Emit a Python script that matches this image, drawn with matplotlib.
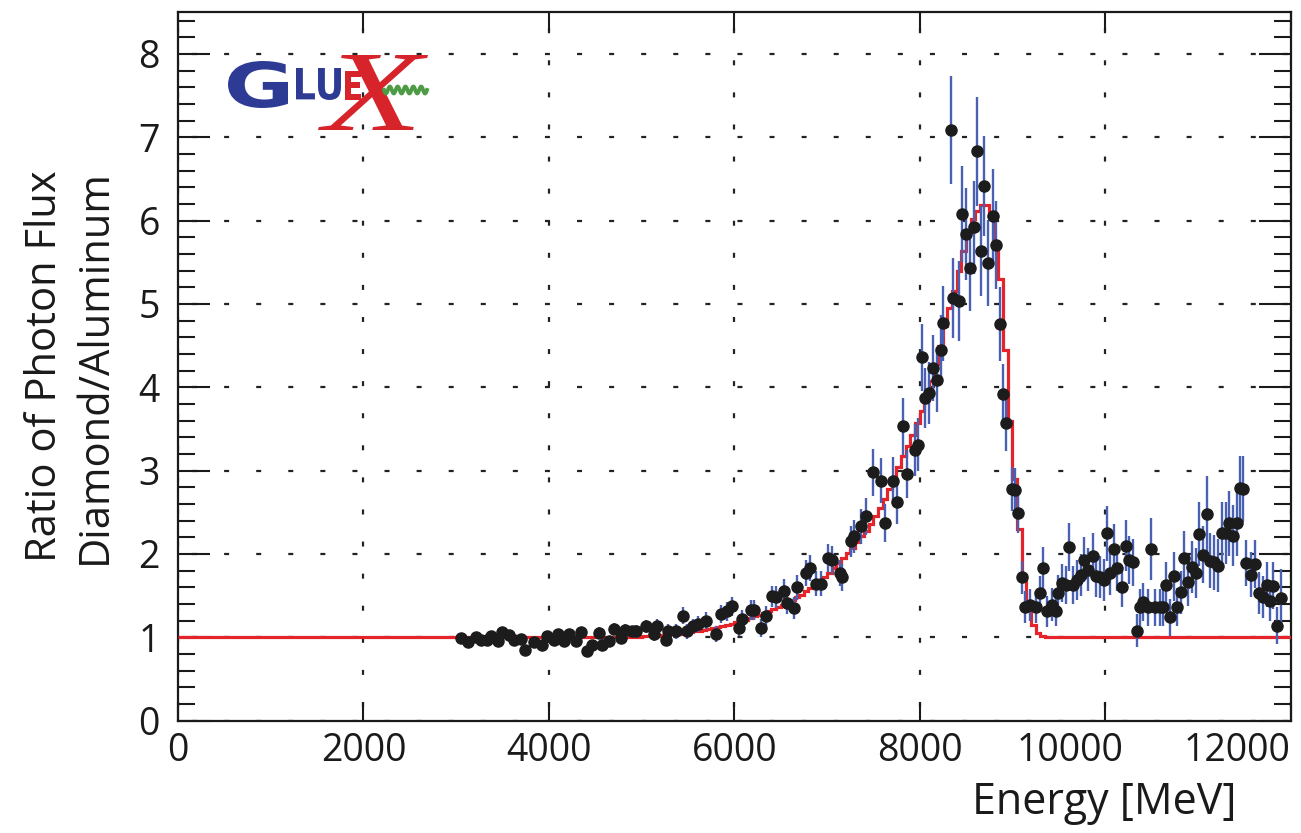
import numpy as np
import matplotlib
matplotlib.use("Agg")
import matplotlib.pyplot as plt
from matplotlib.ticker import MultipleLocator, FixedLocator
from matplotlib.lines import Line2D
from matplotlib.textpath import TextPath
from matplotlib.patches import PathPatch
from matplotlib.font_manager import FontProperties
from matplotlib.transforms import Affine2D

plt.rcParams['font.family'] = ['Open Sans', 'DejaVu Sans']
plt.rcParams['lines.scale_dashes'] = False

#--------------------------------------------------------------------------------#
# tagged photon energy [MeV], flux ratio diamond/aluminum and its error
energy = [3048, 3124, 3211, 3265, 3329, 3373, 3448, 3492, 3567, 3621, 3697, 3740, 3838, 3924,
          3978, 4054, 4097, 4162, 4216, 4292, 4346, 4410, 4465, 4540, 4573, 4648, 4702, 4778,
          4821, 4897, 4940, 5048, 5135, 5167, 5264, 5286, 5373, 5448, 5491, 5556, 5610, 5697,
          5805, 5859, 5924, 5978, 6054, 6086, 6183, 6216, 6291, 6345, 6410, 6454, 6540, 6572,
          6648, 6681, 6778, 6821, 6886, 6940, 7016, 7059, 7145, 7167, 7254, 7297, 7372, 7426,
          7502, 7578, 7621, 7707, 7751, 7816, 7859, 7945, 7978, 8021, 8053, 8097, 8140, 8183,
          8226, 8248, 8335, 8356, 8421, 8453, 8497, 8540, 8583, 8616, 8659, 8691, 8734, 8789,
          8821, 8864, 8897, 8929, 8994, 9026, 9059, 9102, 9134, 9189, 9253, 9297, 9329, 9372,
          9426, 9470, 9491, 9534, 9577, 9610, 9653, 9697, 9740, 9772, 9815, 9870, 9902, 9945,
          9988, 10021, 10053, 10097, 10129, 10183, 10226, 10259, 10302, 10345, 10378, 10410,
          10464, 10497, 10540, 10594, 10626, 10659, 10702, 10745, 10778, 10821, 10853, 10896,
          10940, 10983, 11015, 11059, 11102, 11134, 11178, 11221, 11264, 11307, 11340, 11383,
          11426, 11459, 11492, 11524, 11578, 11621, 11664, 11707, 11750, 11783, 11815, 11858,
          11902]

ratio = [0.99, 0.94, 1.00, 0.97, 0.97, 1.02, 0.95, 1.06, 1.03, 0.97, 0.98, 0.85, 0.94, 0.91,
         1.02, 0.97, 1.04, 0.96, 1.04, 0.96, 1.06, 0.84, 0.91, 1.05, 0.91, 0.95, 1.10, 0.99,
         1.09, 1.07, 1.07, 1.13, 1.04, 1.14, 0.97, 1.08, 1.07, 1.26, 1.07, 1.13, 1.16, 1.20,
         1.04, 1.28, 1.31, 1.37, 1.11, 1.22, 1.33, 1.33, 1.11, 1.26, 1.49, 1.48, 1.56, 1.41,
         1.35, 1.60, 1.77, 1.83, 1.64, 1.64, 1.95, 1.93, 1.77, 1.72, 2.15, 2.21, 2.33, 2.45,
         2.98, 2.88, 2.37, 2.88, 2.62, 3.53, 2.96, 3.25, 3.31, 4.36, 3.87, 3.93, 4.23, 4.09,
         4.45, 4.77, 7.09, 5.07, 5.03, 6.08, 5.84, 5.43, 5.92, 6.83, 5.64, 6.42, 5.49, 6.06,
         5.71, 4.76, 3.92, 3.57, 2.78, 2.77, 2.49, 1.72, 1.36, 1.39, 1.36, 1.53, 1.83, 1.31,
         1.39, 1.32, 1.53, 1.65, 1.63, 2.08, 1.63, 1.69, 1.75, 1.93, 1.81, 1.97, 1.73, 1.72,
         1.69, 2.25, 1.77, 2.06, 1.83, 1.60, 2.10, 1.93, 1.90, 1.08, 1.36, 1.42,
         1.36, 2.06, 1.36, 1.36, 1.36, 1.63, 1.24, 1.73, 1.36, 1.54, 1.95, 1.66,
         1.84, 1.77, 2.24, 1.99, 2.48, 1.92, 1.90, 1.86, 2.25, 2.25, 2.37, 2.22,
         2.37, 2.79, 2.78, 1.89, 1.75, 1.88, 1.53, 1.48, 1.63, 1.44, 1.62, 1.14,
         1.47]

ratio_err = [0.05, 0.05, 0.05, 0.05, 0.05, 0.05, 0.05, 0.05, 0.05, 0.05, 0.05, 0.05, 0.05, 0.05,
             0.06, 0.06, 0.06, 0.06, 0.06, 0.06, 0.06, 0.06, 0.06, 0.07, 0.07, 0.07, 0.07, 0.07,
             0.07, 0.07, 0.08, 0.08, 0.08, 0.08, 0.08, 0.08, 0.09, 0.10, 0.09, 0.09, 0.10, 0.10,
             0.10, 0.11, 0.11, 0.11, 0.10, 0.11, 0.12, 0.12, 0.11, 0.12, 0.13, 0.13, 0.14, 0.13,
             0.13, 0.15, 0.16, 0.16, 0.15, 0.15, 0.17, 0.17, 0.16, 0.16, 0.19, 0.20, 0.21, 0.22,
             0.28, 0.27, 0.23, 0.28, 0.26, 0.34, 0.29, 0.31, 0.32, 0.40, 0.36, 0.37, 0.40, 0.39,
             0.42, 0.45, 0.65, 0.48, 0.48, 0.58, 0.55, 0.52, 0.56, 0.65, 0.54, 0.60, 0.52, 0.56,
             0.53, 0.44, 0.36, 0.33, 0.26, 0.26, 0.24, 0.20, 0.19, 0.19, 0.19, 0.21, 0.25, 0.19,
             0.20, 0.19, 0.22, 0.23, 0.23, 0.29, 0.23, 0.24, 0.25, 0.27, 0.26, 0.28, 0.25, 0.25,
             0.25, 0.33, 0.26, 0.30, 0.27, 0.24, 0.31, 0.29, 0.28, 0.20, 0.22, 0.23,
             0.22, 0.37, 0.22, 0.22, 0.23, 0.27, 0.22, 0.29, 0.23, 0.26, 0.32, 0.28,
             0.31, 0.30, 0.38, 0.34, 0.45, 0.33, 0.33, 0.32, 0.37, 0.37, 0.39, 0.37,
             0.39, 0.38, 0.40, 0.28, 0.27, 0.29, 0.25, 0.25, 0.27, 0.25, 0.28, 0.22,
             0.35]

# coherent bremsstrahlung model, 50 MeV bins starting at 4800 MeV (flat 1 elsewhere)
model_start = 4800
model_width = 50
model_vals = [1.00, 1.00, 1.00, 1.005, 1.01, 1.01, 1.015, 1.02, 1.025, 1.03,
              1.035, 1.04, 1.045, 1.05, 1.06, 1.07, 1.08, 1.09, 1.10, 1.11,
              1.12, 1.135, 1.15, 1.165, 1.18, 1.195, 1.21, 1.23, 1.25, 1.27,
              1.29, 1.32, 1.34, 1.36, 1.39, 1.42, 1.45, 1.48, 1.51, 1.55,
              1.59, 1.63, 1.67, 1.72, 1.77, 1.83, 1.89, 1.95, 2.01, 2.07,
              2.14, 2.21, 2.28, 2.36, 2.45, 2.55, 2.66, 2.78, 2.91, 3.04,
              3.17, 3.30, 3.43, 3.57, 3.72, 3.89, 4.07, 4.28, 4.50, 4.73,
              4.95, 5.16, 5.40, 5.63, 5.86, 6.02, 6.12, 6.19, 6.19, 6.05,
              5.75, 5.30, 4.45, 3.60, 2.90, 2.30, 1.75, 1.40, 1.15, 1.05,
              1.01, 1.00]
model_base = 1.0

x_lo, x_hi = 0, 12000
y_lo, y_hi = 0, 8.5
x_ticks = [0, 2000, 4000, 6000, 8000, 10000, 12000]
x_labels = ['0', '2000', '4000', '6000', '8000', '10000', '12000']
y_ticks = [0, 1, 2, 3, 4, 5, 6, 7, 8]

#--------------------------------------------------------------------------------#

W, H = 1301, 833

def fx(px):
    return px / W

def fy(py):
    return 1 - py / H

def logo_letters(fig, s, box, color, prop):
    # fit a glyph outline into a pixel box (x0, x1, y0, y1), y measured from the top
    x0, x1, y0, y1 = box
    tp = TextPath((0, 0), s, size=100, prop=prop)
    bb = tp.get_extents()
    tr = (Affine2D().translate(-bb.x0, -bb.y0)
          .scale((x1 - x0) / bb.width, (y1 - y0) / bb.height)
          .translate(x0, H - y1))
    fig.add_artist(PathPatch(tp, transform=tr, color=color, lw=0, zorder=10))

fig = plt.figure(figsize=(W / 100, H / 100), dpi=100)
ax = fig.add_axes([fx(178), fy(720.6), fx(1290.5) - fx(178), fy(12.3) - fy(720.6)])

# model histogram
edges = model_start + model_width * np.arange(len(model_vals) + 1)
edges = np.concatenate([[x_lo], edges, [x_hi]])
vals = np.concatenate([[model_base], model_vals, [model_base]])
ax.stairs(vals, edges, color='#e5232a', lw=2.3, zorder=4, baseline=None)

# data with errors
ax.errorbar(energy, ratio, yerr=ratio_err, fmt='o', color='#1c1c1c', ms=8,
            ecolor='#4861b3', elinewidth=1.7, capsize=0, zorder=5)

ax.set_xlim(x_lo, x_hi)
ax.set_ylim(y_lo, y_hi)

# dashed grid at major ticks
ax.xaxis.set_major_locator(FixedLocator(x_ticks))
ax.yaxis.set_major_locator(FixedLocator(y_ticks))
ax.yaxis.set_minor_locator(MultipleLocator(0.2))
ax.grid(True, which='major', color='#222222', lw=1.6, linestyle=(13, (3.6, 19.5)))
ax.set_axisbelow(True)

ax.tick_params(axis='both', which='both', direction='in', top=True, right=True,
               width=1.5, colors='#1a1a1a', labelcolor='#1a1a1a')
ax.tick_params(axis='y', which='major', length=23, labelsize=27, pad=13)
ax.tick_params(axis='y', which='minor', length=12)
ax.tick_params(axis='x', which='major', length=14, labelsize=27, pad=8)
for s in ax.spines.values():
    s.set_linewidth(1.6)
    s.set_color('#1a1a1a')

# the "10000" label sits left of its tick, drawn separately
ax.set_xticklabels(x_labels[:-2] + [''] + x_labels[-1:])
ax.get_xticklabels()[-1].set_horizontalalignment('right')
ax.annotate(x_labels[-2], xy=(x_ticks[-2], 0), xycoords=('data', 'axes fraction'),
            xytext=(-25, -8), textcoords='offset points', ha='center', va='top',
            fontsize=27, color='#1a1a1a')

ax.set_ylabel('Ratio of Photon Flux\nDiamond/Aluminum', fontsize=30, linespacing=1.25,
              color='#1a1a1a')
ax.yaxis.set_label_coords(-0.056, 0.5)
fig.text(fx(1236), fy(803), 'Energy [MeV]', fontsize=31, ha='right', va='center',
         color='#1a1a1a')

# GlueX logo
blue = '#2d3b94'
red = '#d7242b'
bold = FontProperties(family='DejaVu Sans', weight='bold')
serif_it = FontProperties(family='Liberation Serif', style='italic')
logo_letters(fig, 'G', (228, 288, 61, 108), blue, bold)
logo_letters(fig, 'LU', (296, 341, 68, 100), blue, bold)
logo_letters(fig, 'E', (345, 361, 71, 100), red, bold)
logo_letters(fig, 'X', (318, 428, 55, 130), red, serif_it)
wx = np.linspace(384, 427, 80)
wy = 90 + 3.5 * np.sin((wx - 384) / 43 * 2 * np.pi * 5.5)
fig.add_artist(Line2D(fx(wx), fy(wy), color='#4d9c45', lw=2.8, zorder=11))

fig.savefig('out.png', dpi=100)
